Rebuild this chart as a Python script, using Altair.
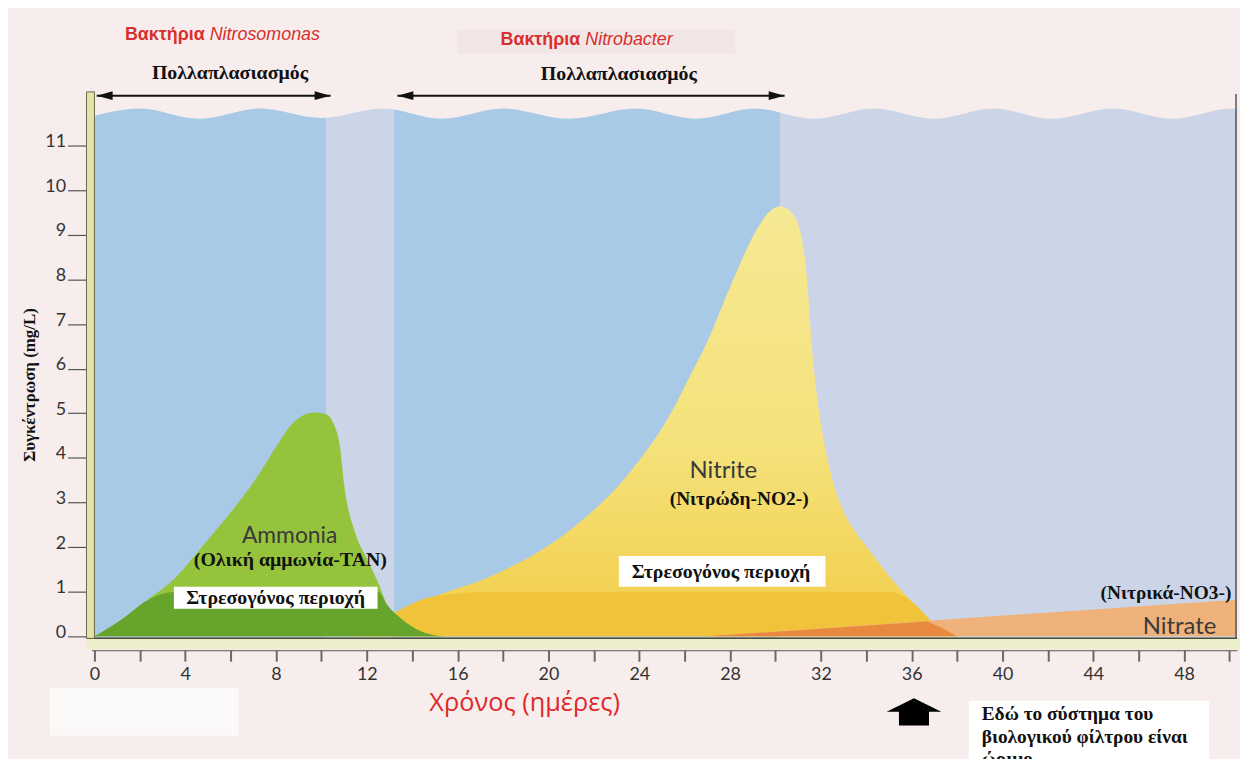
import altair as alt
import pandas as pd

# ---------------- values ----------------
ammonia_days = [0, 1.2, 2.3, 3.6, 4.73, 6.0, 7.1, 8.0, 8.6, 9.1, 9.7, 10.2, 10.55, 10.8, 11.0, 11.5,
                12.0, 12.5, 12.9, 13.5, 14.3, 15.0, 15.4]
ammonia_mgL = [0, 0.38, 0.8, 1.33, 2.0, 2.78, 3.52, 4.25, 4.7, 4.93, 5.02, 4.98, 4.75, 4.3, 3.4, 2.3,
               1.75, 1.2, 0.7, 0.4, 0.13, 0.02, 0]

nitrite_days = [11.5, 13.1, 15.0, 17.7, 21.0, 23.7, 25.5, 26.2, 26.9, 28.1, 29.1, 29.7, 30.2, 30.7, 31.1, 31.4,
                31.6, 31.8, 32.2, 32.6, 33.0, 33.5, 34.1, 35.0, 36.0, 37.0, 38.0]
nitrite_mgL = [0, 0.5, 0.9, 1.4, 2.4, 3.75, 5.1, 5.8, 6.5, 7.95, 9.05, 9.5, 9.64, 9.5, 9.05, 7.95,
               6.5, 5.5, 4.2, 3.35, 2.8, 2.35, 1.95, 1.35, 0.78, 0.29, 0]

nitrate_days = [27.0, 37.0, 50.3]
nitrate_mgL = [0, 0.36, 0.82]
# part of the nitrate wedge lying under the nitrite curve (darker orange in the picture)
nitrate_under_days = [27.0, 36.7, 37.3, 38.0]
nitrate_under_mgL = [0, 0.33, 0.2, 0]

stress_limit_mgL = 1.0

x_tick_days = list(range(0, 51, 2))
y_tick_values = list(range(0, 12))

# background columns of the tank (days)
column_start = [-0.131, 10.2, 13.2, 30.2]
column_end = [10.2, 13.2, 30.2, 50.33]
column_kind = ["blue", "pale", "blue", "pale"]

# bacterial multiplication periods (days)
growth_start = [0.1, 13.35]
growth_end = [10.4, 30.4]

# water surface (crests / troughs)
wave_days = [-0.131, 2.0, 4.6, 7.3, 10.0, 12.7, 15.3, 18.0, 20.9, 23.85, 26.5, 29.1, 31.7, 34.35,
             37.0, 39.6, 42.2, 44.86, 47.5, 50.1, 50.33]
wave_level = [11.65, 11.83, 11.6, 11.83, 11.62, 11.83, 11.6, 11.83, 11.6, 11.83, 11.6, 11.83, 11.6,
              11.83, 11.6, 11.83, 11.6, 11.83, 11.6, 11.83, 11.82]

# ---------------- tables ----------------
amm = pd.DataFrame({"day": ammonia_days, "mgL": ammonia_mgL})
nit = pd.DataFrame({"day": nitrite_days, "mgL": nitrite_mgL})
nat = pd.DataFrame({"day": nitrate_days, "mgL": nitrate_mgL})
nat_u = pd.DataFrame({"day": nitrate_under_days, "mgL": nitrate_under_mgL})
cols = pd.DataFrame({"start": column_start, "end": column_end, "kind": column_kind})
grow = pd.DataFrame({"start": growth_start, "end": growth_end})
wave = pd.DataFrame({"day": wave_days, "level": wave_level})
one = pd.DataFrame({"k": [0]})

BG = "#f7eded"
X_MIN, X_MAX = -0.131, 50.33
Y_MIN, Y_MAX = -0.045, 14.03

xs = alt.Scale(domain=[X_MIN, X_MAX], nice=False, zero=False)
ys = alt.Scale(domain=[Y_MIN, Y_MAX], nice=False, zero=False)

XA = alt.Axis(values=x_tick_days, labelExpr="datum.value % 4 == 0 ? datum.label : ''",
              offset=12, tickSize=11, tickWidth=2, tickColor="#6a6a6a", domainColor="#555",
              domainWidth=1, labelFont="Lato", labelFontSize=18, labelColor="#333",
              labelPadding=4, grid=False, title=None, labelFlush=False)
YA = alt.Axis(values=y_tick_values, offset=4, tickSize=20, tickWidth=1.2, tickColor="#555",
              domain=False, labelFont="Lato", labelFontSize=18, labelColor="#333",
              labelPadding=2, labelBaseline="alphabetic", labelOffset=1, grid=False, title=None)


def XF(f):
    return alt.X(f, scale=xs, axis=XA)


def YF(f):
    return alt.Y(f, scale=ys, axis=YA, stack=None)


def XD(v):
    return alt.XDatum(v, scale=xs, axis=XA)


def YD(v):
    return alt.YDatum(v, scale=ys, axis=YA)


layers = []

# tank columns
layers.append(
    alt.Chart(cols).mark_rect().encode(
        x=XF("start:Q"), x2="end:Q",
        y=YD(Y_MIN), y2=alt.datum(12.3),
        color=alt.Color("kind:N", scale=alt.Scale(domain=["blue", "pale"], range=["#a9cae7", "#cbd5e7"]), legend=None),
    )
)
# air above the wavy surface
layers.append(
    alt.Chart(wave).mark_area(color=BG, interpolate="monotone").encode(
        x=XF("day:Q"), y=YF("level:Q"), y2=alt.datum(12.4))
)

# nitrite
yellow_grad = alt.Gradient(gradient="linear",
                           stops=[alt.GradientStop(color="#f2cd48", offset=0),
                                  alt.GradientStop(color="#f5e27c", offset=0.45),
                                  alt.GradientStop(color="#f6e994", offset=1)],
                           x1=1, x2=1, y1=1, y2=0)
layers.append(alt.Chart(nit).mark_area(color=yellow_grad, interpolate="monotone").encode(
    x=XF("day:Q"), y=YF("mgL:Q")))
layers.append(
    alt.Chart(nit).transform_calculate(band=f"min(datum.mgL, {stress_limit_mgL})")
    .mark_area(color="#f0c33a", interpolate="monotone").encode(x=XF("day:Q"), y=YF("band:Q"))
)

# ammonia
layers.append(alt.Chart(amm).mark_area(color="#95c43c", interpolate="monotone").encode(
    x=XF("day:Q"), y=YF("mgL:Q")))
layers.append(
    alt.Chart(amm).transform_calculate(band=f"min(datum.mgL, {stress_limit_mgL})")
    .mark_area(color="#66a42c", interpolate="monotone").encode(x=XF("day:Q"), y=YF("band:Q"))
)

# nitrate
layers.append(alt.Chart(nat).mark_area(color="#efb27a").encode(x=XF("day:Q"), y=YF("mgL:Q")))
layers.append(alt.Chart(nat_u).mark_area(color="#e9893d").encode(x=XF("day:Q"), y=YF("mgL:Q")))

# frame of the tank
layers.append(alt.Chart(one).mark_rect(fill="#eceec9").encode(
    x=alt.value(-5), x2=alt.value(1156), y=alt.value(632), y2=alt.value(643)))
layers.append(alt.Chart(one).mark_rule(color="#4a4a38", strokeWidth=1.5).encode(
    x=alt.value(-5), x2=alt.value(1153), y=alt.value(632)))
layers.append(alt.Chart(one).mark_rect(fill="#e1e5ac", stroke="#6b6b45", strokeWidth=1).encode(
    x=alt.value(-5), x2=alt.value(3), y=alt.value(82), y2=alt.value(632)))
layers.append(alt.Chart(one).mark_rule(color="#555", strokeWidth=1.5).encode(
    x=alt.value(1152), y=alt.value(84), y2=alt.value(632)))

# multiplication arrows
LEFT_HEAD = "M0,0 L2,-0.55 L2,0.55 Z"
RIGHT_HEAD = "M0,0 L-2,-0.55 L-2,0.55 Z"
layers.append(alt.Chart(grow).mark_rule(color="#111", strokeWidth=2).encode(
    x=XF("start:Q"), x2="end:Q", y=YD(12.12)))
layers.append(alt.Chart(grow).mark_point(shape=LEFT_HEAD, filled=True, size=256, color="#111", opacity=1).encode(
    x=XF("start:Q"), y=YD(12.12)))
layers.append(alt.Chart(grow).mark_point(shape=RIGHT_HEAD, filled=True, size=256, color="#111", opacity=1).encode(
    x=XF("end:Q"), y=YD(12.12)))


def text_at(t, x, y, size, font="Liberation Serif", weight="bold", style="normal", color="#111",
            align="center", angle=0, baseline="middle"):
    kw = dict(text=t, fontSize=size, font=font, fontWeight=weight, fontStyle=style, color=color,
              align=align, baseline=baseline)
    if angle:
        kw["angle"] = angle
    return alt.Chart(one).mark_text(**kw).encode(x=x, y=y)


def box_at(x1, x2, y1, y2, fill="white", opacity=1.0):
    return alt.Chart(one).mark_rect(fill=fill, opacity=opacity).encode(x=x1, x2=x2, y=y1, y2=y2)


RED = "#d8302c"
# titles of the bacteria
layers.append(box_at(alt.value(368), alt.value(648), alt.value(19), alt.value(43), fill="#f3e6e6"))
layers.append(text_at("Βακτήρια", alt.value(114), alt.value(25), 18, font="Liberation Sans", color=RED, align="right"))
layers.append(text_at("Nitrosomonas", alt.value(119), alt.value(25), 18, font="Liberation Sans", weight="normal",
                      style="italic", color=RED, align="left"))
layers.append(text_at("Βακτήρια", alt.value(492), alt.value(30), 18, font="Liberation Sans", color=RED, align="right"))
layers.append(text_at("Nitrobacter", alt.value(497), alt.value(30), 18, font="Liberation Sans", weight="normal",
                      style="italic", color=RED, align="left"))
layers.append(text_at("Πολλαπλασιασμός", XD(5.97), YD(12.63), 20))
layers.append(text_at("Πολλαπλασιασμός", XD(23.1), YD(12.6), 20))

# curve labels
layers.append(text_at("Ammonia", XD(8.6), YD(2.25), 23, font="Lato", weight="normal", color="#3a3a3a"))
layers.append(text_at("(Ολική αμμωνία-TAN)", XD(8.63), YD(1.72), 20))
layers.append(text_at("Nitrite", XD(27.7), YD(3.7), 24, font="Lato", weight="normal", color="#3a3a3a"))
layers.append(text_at("(Νιτρώδη-ΝΟ2-)", XD(28.4), YD(3.07), 19.5))
layers.append(text_at("(Νιτρικά-ΝΟ3-)", XD(47.2), YD(0.96), 19.5))
layers.append(text_at("Nitrate", XD(47.8), YD(0.2), 24, font="Lato", weight="normal", color="#3a3a3a"))

# stress zones
layers.append(box_at(XD(3.5), alt.XDatum(12.47), YD(0.62), alt.YDatum(1.11)))
layers.append(text_at("Στρεσογόνος περιοχή", XD(7.98), YD(0.86), 20))
layers.append(box_at(XD(23.1), alt.XDatum(32.2), YD(1.11), alt.YDatum(1.8)))
layers.append(text_at("Στρεσογόνος περιοχή", XD(27.6), YD(1.45), 20))

# axis titles
layers.append(text_at("Συγκέντρωση (mg/L)", alt.value(-62), alt.value(377), 17, angle=270))
layers.append(text_at("Χρόνος (ημέρες)", alt.value(436), alt.value(697), 25.5, font="Open Sans", weight="normal",
                      color="#e0282a"))

# mature-filter marker
UP_ARROW = "M0,-0.5 L1,0 L0.55,0 L0.55,0.5 L-0.55,0.5 L-0.55,0 L-1,0 Z"
layers.append(alt.Chart(one).mark_point(shape=UP_ARROW, filled=True, size=3025, color="#000", opacity=1).encode(
    x=XD(36.1), y=alt.value(706)))
layers.append(box_at(alt.value(883), alt.value(1125), alt.value(695), alt.value(760)))
layers.append(box_at(alt.value(-42), alt.value(148), alt.value(682), alt.value(730), fill="#fbf8f8"))
layers.append(text_at("Εδώ το σύστημα του", alt.value(896), alt.value(708), 19.5, align="left"))
layers.append(text_at("βιολογικού φίλτρου είναι", alt.value(896), alt.value(731), 19.5, align="left"))
layers.append(text_at("ώριμο", alt.value(896), alt.value(753), 19.5, align="left"))

chart = alt.layer(*layers).properties(
    width=1153, height=632,
    autosize=alt.AutoSizeParams(type="none"),
    padding={"left": 84, "top": 0, "right": 3, "bottom": 119},
    background=BG,
).configure_view(stroke=None)

chart.save("out.html", embed_options={"renderer": "svg", "actions": False})
